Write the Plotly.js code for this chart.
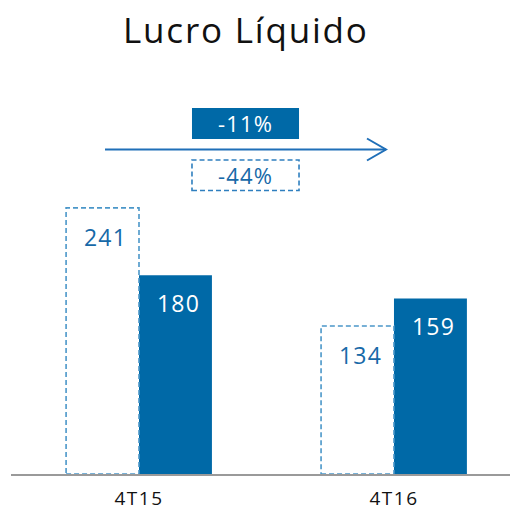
<!DOCTYPE html>
<html><head><meta charset="utf-8">
<script src="https://cdn.plot.ly/plotly-3.0.1.min.js"></script>
<style>html,body{margin:0;padding:0;background:#fff}#c{width:510px;height:510px}
.gtitle{letter-spacing:1.8px}
.annotation-text{letter-spacing:1.2px}
.xtick text{letter-spacing:1.5px}
</style>
</head><body><div id="c"></div>
<script>
const categories = ["4T15", "4T16"];
const seriesDashed = [241, 134];   // contorno tracejado
const seriesSolid = [180, 159];    // barra azul
const changeLabels = ["-11%", "-44%"];
const titleText = "Lucro Líquido";

const FONT = "'Open Sans', sans-serif";
const BLUE = "#0069a7";
const DASHBLUE = "#4b97c9";
const TXTBLUE = "#1769a8";
const W = 0.286;
const idx = categories.map((c, i) => i);

const traces = [
  {type: "bar", x: idx, y: seriesDashed, width: W, offset: -W,
   marker: {color: "rgba(255,255,255,0)", line: {width: 0}}, hoverinfo: "y", name: "a"},
  {type: "bar", x: idx, y: seriesSolid, width: W, offset: 0,
   marker: {color: BLUE, line: {width: 0}}, hoverinfo: "y", name: "b"}
];

const shapes = [];
idx.forEach((i) => {
  shapes.push({type: "rect", xref: "x", yref: "y", x0: i - W, x1: i, y0: 0, y1: seriesDashed[i],
    line: {color: DASHBLUE, width: 1.6, dash: "5px,3px"}, fillcolor: "rgba(0,0,0,0)", layer: "above"});
});
// arrow + boxes (paper coords)
shapes.push({type: "line", xref: "paper", yref: "paper", x0: 0.1884, x1: 0.7515, y0: 0.6846, y1: 0.6846,
  line: {color: "#1f6fb8", width: 2}, layer: "below"});
shapes.push({type: "path", xref: "paper", yref: "paper",
  path: "M 0.7134 0.7078 L 0.7515 0.6846 L 0.7134 0.6614",
  line: {color: "#1f6fb8", width: 2}, layer: "below"});
shapes.push({type: "rect", xref: "paper", yref: "paper", x0: 0.3627, x1: 0.5772, y0: 0.7068, y1: 0.7722,
  fillcolor: BLUE, line: {width: 0}, layer: "below"});
shapes.push({type: "rect", xref: "paper", yref: "paper", x0: 0.3627, x1: 0.5772, y0: 0.5981, y1: 0.6624,
  fillcolor: "rgba(0,0,0,0)", line: {color: "#2f7fbf", width: 1.6, dash: "5px,3px"}, layer: "below"});

const annotations = [];
idx.forEach((i) => {
  annotations.push({x: i - W / 2, y: seriesDashed[i], xref: "x", yref: "y", text: String(seriesDashed[i]),
    showarrow: false, yshift: -29, xshift: 3, yanchor: "middle",
    font: {family: FONT, size: 23, color: TXTBLUE}});
  annotations.push({x: i + W / 2, y: seriesSolid[i], xref: "x", yref: "y", text: String(seriesSolid[i]),
    showarrow: false, yshift: -28, xshift: 3, yanchor: "middle",
    font: {family: FONT, size: 23, color: "#ffffff"}});
});
annotations.push({x: 0.47, y: 0.7395, xref: "paper", yref: "paper", text: changeLabels[0], showarrow: false,
  yanchor: "middle", font: {family: FONT, size: 22, color: "#ffffff"}});
annotations.push({x: 0.47, y: 0.6303, xref: "paper", yref: "paper", text: changeLabels[1], showarrow: false,
  yanchor: "middle", font: {family: FONT, size: 22, color: TXTBLUE}});

const layout = {
  width: 510, height: 510,
  margin: {l: 11, r: 0, t: 0, b: 36},
  paper_bgcolor: "#fff", plot_bgcolor: "rgba(0,0,0,0)",
  showlegend: false,
  title: {text: titleText, x: 0.482, xanchor: "center", y: 0.94, yanchor: "middle",
    font: {family: FONT, size: 35, color: "#111"}},
  xaxis: {type: "linear", range: [-0.502, 1.455], tickvals: idx, ticktext: categories,
    showgrid: false, zeroline: false, showline: true, linecolor: "#9a9a9a", linewidth: 1.5,
    ticks: "", ticklabelstandoff: 7, tickfont: {family: FONT, size: 19, color: "#111"}, fixedrange: true},
  yaxis: {range: [0, 429.3], visible: false, fixedrange: true},
  shapes: shapes, annotations: annotations
};

Plotly.newPlot("c", traces, layout, {displayModeBar: false, staticPlot: true});
</script></body></html>
